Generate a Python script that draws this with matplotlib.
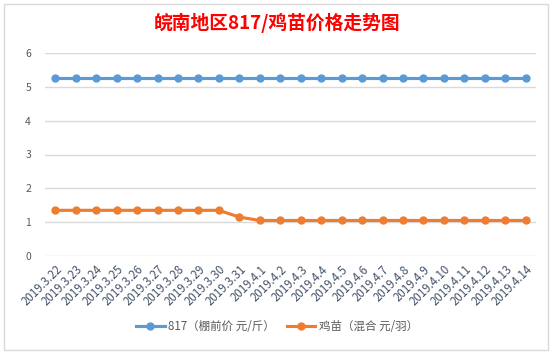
import matplotlib
matplotlib.use("Agg")
import matplotlib.pyplot as plt
from matplotlib.patches import Rectangle

plt.rcParams['font.family'] = ['Noto Sans CJK SC', 'DejaVu Sans']

dates = ["2019.3.22", "2019.3.23", "2019.3.24", "2019.3.25", "2019.3.26", "2019.3.27",
         "2019.3.28", "2019.3.29", "2019.3.30", "2019.3.31", "2019.4.1", "2019.4.2",
         "2019.4.3", "2019.4.4", "2019.4.5", "2019.4.6", "2019.4.7", "2019.4.8",
         "2019.4.9", "2019.4.10", "2019.4.11", "2019.4.12", "2019.4.13", "2019.4.14"]
price_817 = [5.25] * 24
price_chick = [1.35, 1.35, 1.35, 1.35, 1.35, 1.35, 1.35, 1.35, 1.35, 1.15,
               1.05, 1.05, 1.05, 1.05, 1.05, 1.05, 1.05, 1.05, 1.05, 1.05,
               1.05, 1.05, 1.05, 1.05]
label_817 = "817（棚前价 元/斤）"
label_chick = "鸡苗（混合 元/羽）"
title = "皖南地区817/鸡苗价格走势图"
yticks = [0, 1, 2, 3, 4, 5, 6]

fig = plt.figure(figsize=(5.54, 3.54), dpi=100)
fig.patch.set_facecolor("white")
# chart border
fig.patches.append(Rectangle((0.008, 0.012), 0.982, 0.976, transform=fig.transFigure,
                             fill=False, edgecolor="#d9d9d9", linewidth=1))

ax = fig.add_axes([45/554, 1 - 256/354, (536 - 45)/554, (256 - 53)/354])
x = list(range(len(dates)))
ax.plot(x, price_817, color="#5B9BD5", linewidth=2.25, marker="o", markersize=5,
        label=label_817, zorder=3)
ax.plot(x, price_chick, color="#ED7D31", linewidth=2.25, marker="o", markersize=5,
        label=label_chick, zorder=3)

ax.set_xlim(-0.5, len(dates) - 0.5)
ax.set_ylim(0, 6)
ax.set_yticks(yticks)
ax.set_yticklabels([str(v) for v in yticks])
ax.set_xticks(x)
ax.set_xticklabels(dates, rotation=45, ha="right", rotation_mode="anchor")
ax.tick_params(axis="both", length=0, colors="#595959", labelsize=7.5)
ax.tick_params(axis="x", pad=5, labelcolor="#44546A", labelsize=8.3)
ax.tick_params(axis="y", pad=10)
ax.grid(axis="y", color="#d9d9d9", linewidth=1)
ax.set_axisbelow(True)
for s in ax.spines.values():
    s.set_visible(False)

fig.text(0.5, 1 - 23/354, title, color="#FF0000", fontsize=13.5, fontweight="bold",
         ha="center", va="center")

fig.legend(loc="center", bbox_to_anchor=(0.5, 1 - 327/354), ncol=2, frameon=False,
           fontsize=8.3, handlelength=2.5, columnspacing=1.0, handletextpad=0.3,
           labelcolor="#595959")

fig.savefig("out.png", dpi=100, facecolor="white")
